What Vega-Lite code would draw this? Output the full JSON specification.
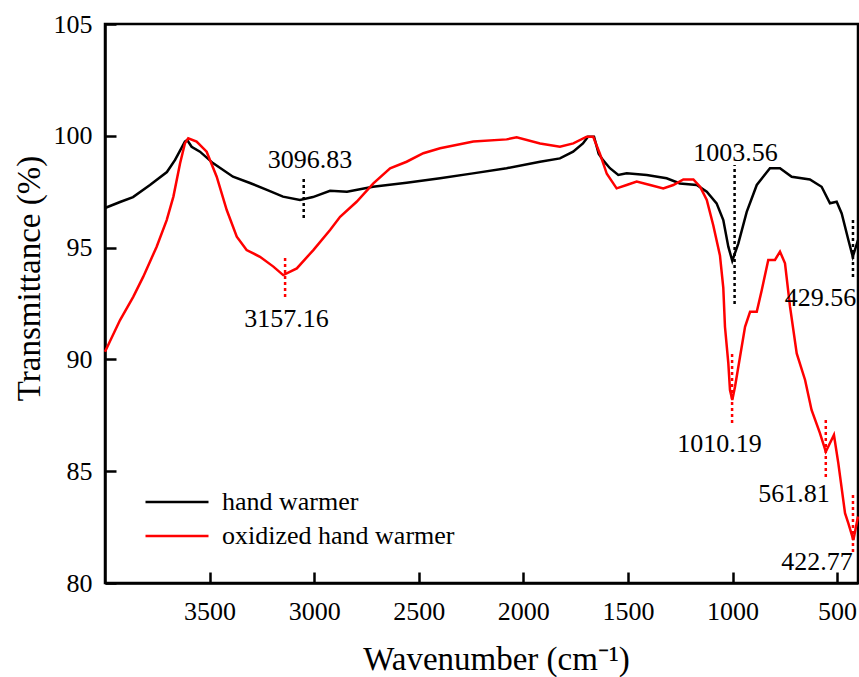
{
  "$schema": "https://vega.github.io/schema/vega-lite/v6.json",
  "width": 753,
  "height": 559,
  "autosize": {"type": "none"},
  "padding": {"left": 105, "top": 24, "right": 1, "bottom": 94},
  "background": "white",
  "datasets": {
    "spectra": [
      {"wn": 4000, "T": 96.77, "sample": "hand warmer"},
      {"wn": 3928, "T": 97.04, "sample": "hand warmer"},
      {"wn": 3866, "T": 97.26, "sample": "hand warmer"},
      {"wn": 3785, "T": 97.8, "sample": "hand warmer"},
      {"wn": 3704, "T": 98.38, "sample": "hand warmer"},
      {"wn": 3665, "T": 98.92, "sample": "hand warmer"},
      {"wn": 3618, "T": 99.74, "sample": "hand warmer"},
      {"wn": 3607, "T": 99.81, "sample": "hand warmer"},
      {"wn": 3586, "T": 99.51, "sample": "hand warmer"},
      {"wn": 3546, "T": 99.29, "sample": "hand warmer"},
      {"wn": 3484, "T": 98.78, "sample": "hand warmer"},
      {"wn": 3388, "T": 98.17, "sample": "hand warmer"},
      {"wn": 3307, "T": 97.89, "sample": "hand warmer"},
      {"wn": 3226, "T": 97.58, "sample": "hand warmer"},
      {"wn": 3149, "T": 97.28, "sample": "hand warmer"},
      {"wn": 3068, "T": 97.13, "sample": "hand warmer"},
      {"wn": 3006, "T": 97.26, "sample": "hand warmer"},
      {"wn": 2924, "T": 97.54, "sample": "hand warmer"},
      {"wn": 2843, "T": 97.5, "sample": "hand warmer"},
      {"wn": 2719, "T": 97.72, "sample": "hand warmer"},
      {"wn": 2558, "T": 97.9, "sample": "hand warmer"},
      {"wn": 2398, "T": 98.1, "sample": "hand warmer"},
      {"wn": 2241, "T": 98.32, "sample": "hand warmer"},
      {"wn": 2080, "T": 98.55, "sample": "hand warmer"},
      {"wn": 1920, "T": 98.84, "sample": "hand warmer"},
      {"wn": 1825, "T": 98.99, "sample": "hand warmer"},
      {"wn": 1762, "T": 99.29, "sample": "hand warmer"},
      {"wn": 1715, "T": 99.66, "sample": "hand warmer"},
      {"wn": 1691, "T": 99.96, "sample": "hand warmer"},
      {"wn": 1662, "T": 99.96, "sample": "hand warmer"},
      {"wn": 1640, "T": 99.2, "sample": "hand warmer"},
      {"wn": 1618, "T": 98.9, "sample": "hand warmer"},
      {"wn": 1586, "T": 98.55, "sample": "hand warmer"},
      {"wn": 1546, "T": 98.25, "sample": "hand warmer"},
      {"wn": 1506, "T": 98.32, "sample": "hand warmer"},
      {"wn": 1410, "T": 98.25, "sample": "hand warmer"},
      {"wn": 1315, "T": 98.1, "sample": "hand warmer"},
      {"wn": 1251, "T": 97.87, "sample": "hand warmer"},
      {"wn": 1171, "T": 97.8, "sample": "hand warmer"},
      {"wn": 1123, "T": 97.5, "sample": "hand warmer"},
      {"wn": 1076, "T": 96.98, "sample": "hand warmer"},
      {"wn": 1044, "T": 96.23, "sample": "hand warmer"},
      {"wn": 1020, "T": 95.04, "sample": "hand warmer"},
      {"wn": 1001, "T": 94.41, "sample": "hand warmer"},
      {"wn": 972, "T": 95.19, "sample": "hand warmer"},
      {"wn": 932, "T": 96.6, "sample": "hand warmer"},
      {"wn": 884, "T": 97.8, "sample": "hand warmer"},
      {"wn": 821, "T": 98.55, "sample": "hand warmer"},
      {"wn": 773, "T": 98.55, "sample": "hand warmer"},
      {"wn": 717, "T": 98.17, "sample": "hand warmer"},
      {"wn": 630, "T": 98.05, "sample": "hand warmer"},
      {"wn": 574, "T": 97.72, "sample": "hand warmer"},
      {"wn": 534, "T": 96.98, "sample": "hand warmer"},
      {"wn": 502, "T": 97.05, "sample": "hand warmer"},
      {"wn": 478, "T": 96.53, "sample": "hand warmer"},
      {"wn": 446, "T": 95.34, "sample": "hand warmer"},
      {"wn": 425, "T": 94.59, "sample": "hand warmer"},
      {"wn": 400, "T": 95.34, "sample": "hand warmer"},
      {"wn": 4000, "T": 90.34, "sample": "oxidized hand warmer"},
      {"wn": 3928, "T": 91.76, "sample": "oxidized hand warmer"},
      {"wn": 3865, "T": 92.8, "sample": "oxidized hand warmer"},
      {"wn": 3817, "T": 93.7, "sample": "oxidized hand warmer"},
      {"wn": 3753, "T": 95.04, "sample": "oxidized hand warmer"},
      {"wn": 3705, "T": 96.23, "sample": "oxidized hand warmer"},
      {"wn": 3673, "T": 97.28, "sample": "oxidized hand warmer"},
      {"wn": 3641, "T": 98.77, "sample": "oxidized hand warmer"},
      {"wn": 3618, "T": 99.66, "sample": "oxidized hand warmer"},
      {"wn": 3602, "T": 99.89, "sample": "oxidized hand warmer"},
      {"wn": 3562, "T": 99.74, "sample": "oxidized hand warmer"},
      {"wn": 3514, "T": 99.29, "sample": "oxidized hand warmer"},
      {"wn": 3466, "T": 98.17, "sample": "oxidized hand warmer"},
      {"wn": 3418, "T": 96.68, "sample": "oxidized hand warmer"},
      {"wn": 3370, "T": 95.49, "sample": "oxidized hand warmer"},
      {"wn": 3323, "T": 94.89, "sample": "oxidized hand warmer"},
      {"wn": 3259, "T": 94.59, "sample": "oxidized hand warmer"},
      {"wn": 3195, "T": 94.15, "sample": "oxidized hand warmer"},
      {"wn": 3148, "T": 93.77, "sample": "oxidized hand warmer"},
      {"wn": 3083, "T": 94.07, "sample": "oxidized hand warmer"},
      {"wn": 3004, "T": 94.89, "sample": "oxidized hand warmer"},
      {"wn": 2924, "T": 95.79, "sample": "oxidized hand warmer"},
      {"wn": 2876, "T": 96.38, "sample": "oxidized hand warmer"},
      {"wn": 2797, "T": 97.05, "sample": "oxidized hand warmer"},
      {"wn": 2717, "T": 97.87, "sample": "oxidized hand warmer"},
      {"wn": 2637, "T": 98.55, "sample": "oxidized hand warmer"},
      {"wn": 2558, "T": 98.84, "sample": "oxidized hand warmer"},
      {"wn": 2478, "T": 99.22, "sample": "oxidized hand warmer"},
      {"wn": 2398, "T": 99.44, "sample": "oxidized hand warmer"},
      {"wn": 2239, "T": 99.74, "sample": "oxidized hand warmer"},
      {"wn": 2080, "T": 99.84, "sample": "oxidized hand warmer"},
      {"wn": 2032, "T": 99.93, "sample": "oxidized hand warmer"},
      {"wn": 1920, "T": 99.66, "sample": "oxidized hand warmer"},
      {"wn": 1825, "T": 99.51, "sample": "oxidized hand warmer"},
      {"wn": 1761, "T": 99.66, "sample": "oxidized hand warmer"},
      {"wn": 1697, "T": 99.96, "sample": "oxidized hand warmer"},
      {"wn": 1666, "T": 99.96, "sample": "oxidized hand warmer"},
      {"wn": 1634, "T": 99.2, "sample": "oxidized hand warmer"},
      {"wn": 1601, "T": 98.3, "sample": "oxidized hand warmer"},
      {"wn": 1554, "T": 97.65, "sample": "oxidized hand warmer"},
      {"wn": 1506, "T": 97.8, "sample": "oxidized hand warmer"},
      {"wn": 1458, "T": 97.95, "sample": "oxidized hand warmer"},
      {"wn": 1394, "T": 97.8, "sample": "oxidized hand warmer"},
      {"wn": 1331, "T": 97.65, "sample": "oxidized hand warmer"},
      {"wn": 1283, "T": 97.8, "sample": "oxidized hand warmer"},
      {"wn": 1235, "T": 98.05, "sample": "oxidized hand warmer"},
      {"wn": 1187, "T": 98.05, "sample": "oxidized hand warmer"},
      {"wn": 1155, "T": 97.72, "sample": "oxidized hand warmer"},
      {"wn": 1123, "T": 97.13, "sample": "oxidized hand warmer"},
      {"wn": 1092, "T": 96.0, "sample": "oxidized hand warmer"},
      {"wn": 1060, "T": 94.65, "sample": "oxidized hand warmer"},
      {"wn": 1044, "T": 93.2, "sample": "oxidized hand warmer"},
      {"wn": 1036, "T": 91.46, "sample": "oxidized hand warmer"},
      {"wn": 1020, "T": 89.83, "sample": "oxidized hand warmer"},
      {"wn": 1012, "T": 88.63, "sample": "oxidized hand warmer"},
      {"wn": 1001, "T": 88.18, "sample": "oxidized hand warmer"},
      {"wn": 988, "T": 88.78, "sample": "oxidized hand warmer"},
      {"wn": 964, "T": 90.12, "sample": "oxidized hand warmer"},
      {"wn": 940, "T": 91.46, "sample": "oxidized hand warmer"},
      {"wn": 916, "T": 92.13, "sample": "oxidized hand warmer"},
      {"wn": 884, "T": 92.13, "sample": "oxidized hand warmer"},
      {"wn": 860, "T": 93.1, "sample": "oxidized hand warmer"},
      {"wn": 829, "T": 94.45, "sample": "oxidized hand warmer"},
      {"wn": 797, "T": 94.45, "sample": "oxidized hand warmer"},
      {"wn": 773, "T": 94.82, "sample": "oxidized hand warmer"},
      {"wn": 749, "T": 94.3, "sample": "oxidized hand warmer"},
      {"wn": 725, "T": 92.36, "sample": "oxidized hand warmer"},
      {"wn": 693, "T": 90.27, "sample": "oxidized hand warmer"},
      {"wn": 653, "T": 89.08, "sample": "oxidized hand warmer"},
      {"wn": 622, "T": 87.74, "sample": "oxidized hand warmer"},
      {"wn": 582, "T": 86.7, "sample": "oxidized hand warmer"},
      {"wn": 554, "T": 85.87, "sample": "oxidized hand warmer"},
      {"wn": 515, "T": 86.62, "sample": "oxidized hand warmer"},
      {"wn": 494, "T": 85.35, "sample": "oxidized hand warmer"},
      {"wn": 462, "T": 83.12, "sample": "oxidized hand warmer"},
      {"wn": 446, "T": 82.67, "sample": "oxidized hand warmer"},
      {"wn": 422, "T": 81.92, "sample": "oxidized hand warmer"},
      {"wn": 400, "T": 82.97, "sample": "oxidized hand warmer"}
    ],
    "markers": [
      {"wn": 3050, "lo": 96.32, "hi": 98.16, "sample": "hand warmer"},
      {"wn": 3139, "lo": 92.79, "hi": 94.67, "sample": "oxidized hand warmer"},
      {"wn": 990, "lo": 92.48, "hi": 98.69, "sample": "hand warmer"},
      {"wn": 424, "lo": 93.68, "hi": 96.32, "sample": "hand warmer"},
      {"wn": 1002, "lo": 87.16, "hi": 90.29, "sample": "oxidized hand warmer"},
      {"wn": 554, "lo": 84.74, "hi": 87.42, "sample": "oxidized hand warmer"},
      {"wn": 424, "lo": 81.39, "hi": 84.03, "sample": "oxidized hand warmer"}
    ],
    "labels": [
      {"wn": 3020, "T": 98.56, "label": "3096.83"},
      {"wn": 3132, "T": 91.45, "label": "3157.16"},
      {"wn": 986, "T": 98.87, "label": "1003.56"},
      {"wn": 579, "T": 92.39, "label": "429.56"},
      {"wn": 1062, "T": 85.86, "label": "1010.19"},
      {"wn": 706, "T": 83.62, "label": "561.81"},
      {"wn": 596, "T": 80.58, "label": "422.77"}
    ]
  },
  "layer": [
    {
      "data": {"name": "spectra"},
      "mark": {"type": "line", "strokeWidth": 2.5, "interpolate": "linear"},
      "encoding": {
        "x": {
          "field": "wn", "type": "quantitative",
          "scale": {"domain": [400, 4000], "reverse": true, "nice": false, "zero": false},
          "axis": {
            "title": "Wavenumber (cm⁻¹)",
            "values": [3500, 3000, 2500, 2000, 1500, 1000, 500],
            "format": "d",
            "labelPadding": 26,
            "titleX": 391, "titleY": 86, "titleBaseline": "alphabetic", "titleAlign": "center", "titleAnchor": null
          }
        },
        "y": {
          "field": "T", "type": "quantitative",
          "scale": {"domain": [80, 105], "nice": false, "zero": false},
          "axis": {
            "title": "Transmittance (%)",
            "values": [80, 85, 90, 95, 100, 105],
            "labelPadding": 24,
            "titleX": -76, "titleY": 254, "titleBaseline": "middle", "titleAlign": "center", "titleAngle": -90
          }
        },
        "color": {
          "field": "sample", "type": "nominal",
          "scale": {"domain": ["hand warmer", "oxidized hand warmer"], "range": ["#000000", "#ff0000"]},
          "legend": {
            "title": null, "orient": "none", "legendX": 59, "legendY": 465,
            "symbolType": "M-3,0H3", "symbolSize": 441, "symbolStrokeWidth": 2.5,
            "labelFont": "Liberation Serif", "labelFontSize": 26, "labelColor": "black", "labelLimit": 0,
            "labelOffset": 32, "rowPadding": 8, "padding": 0
          }
        }
      }
    },
    {
      "data": {"name": "markers"},
      "mark": {"type": "rule", "strokeWidth": 2.5, "strokeDash": [3, 3]},
      "encoding": {
        "x": {"field": "wn", "type": "quantitative"},
        "y": {"field": "lo", "type": "quantitative"},
        "y2": {"field": "hi"},
        "color": {"field": "sample", "type": "nominal", "legend": null}
      }
    },
    {
      "data": {"name": "labels"},
      "mark": {"type": "text", "font": "Liberation Serif", "fontSize": 26, "color": "black", "align": "center", "baseline": "alphabetic"},
      "encoding": {
        "x": {"field": "wn", "type": "quantitative"},
        "y": {"field": "T", "type": "quantitative"},
        "text": {"field": "label"}
      }
    }
  ],
  "config": {
    "font": "Liberation Serif",
    "view": {"stroke": "black", "strokeWidth": 2.5},
    "axis": {
      "grid": false,
      "domainColor": "black", "domainWidth": 2.5,
      "tickColor": "black", "tickWidth": 2.5, "tickSize": -11,
      "labelFont": "Liberation Serif", "labelFontSize": 26, "labelColor": "black",
      "titleFont": "Liberation Serif", "titleFontSize": 33, "titleFontWeight": "normal", "titleColor": "black"
    }
  }
}
